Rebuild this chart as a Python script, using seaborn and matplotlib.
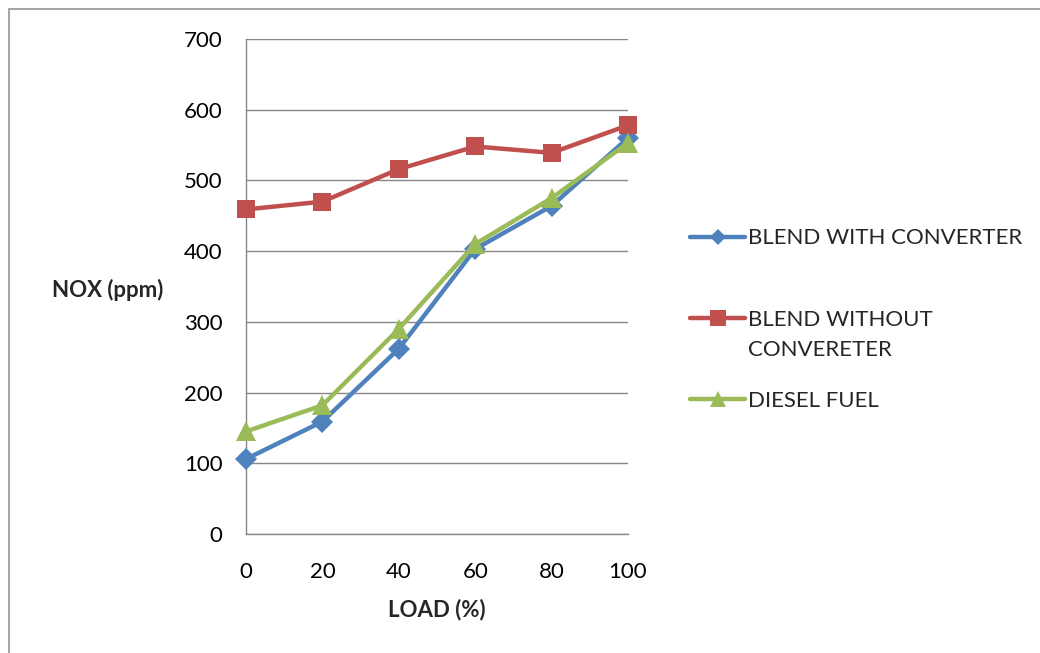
import matplotlib
matplotlib.use("Agg")
import matplotlib.pyplot as plt
import seaborn as sns
import pandas as pd
from matplotlib.patches import Rectangle

load = [0, 20, 40, 60, 80, 100]
blend_with = [106, 159, 262, 403, 464, 560]
blend_without = [459, 470, 516, 548, 539, 578]
diesel = [145, 182, 290, 410, 475, 553]
series_names = ["BLEND WITH CONVERTER", "BLEND WITHOUT\nCONVERETER", "DIESEL FUEL"]
y_ticks = [0, 100, 200, 300, 400, 500, 600, 700]
x_ticks = [0, 20, 40, 60, 80, 100]

colors = ["#4F81BD", "#C0504D", "#9BBB59"]
markers = ["D", "s", "^"]
msizes = [11, 13.5, 15]
leg_msizes = [8, 12, 12]

sns.set_theme(style="white")
plt.rcParams["font.family"] = ["Lato", "DejaVu Sans"]
FS = 16

W, H = 1040, 653
fig = plt.figure(figsize=(W / 100, H / 100), dpi=100)
ax = fig.add_axes([246 / W, 1 - 534 / H, (628 - 246) / W, (534 - 39) / H])

fig.patches.append(Rectangle((9 / W, -0.05), 1.1, 1 - 9 / H + 0.05, transform=fig.transFigure,
                             fill=False, edgecolor="#A6A6A6", linewidth=1.5, zorder=0))

df = pd.DataFrame({"load": load, "a": blend_with, "b": blend_without, "c": diesel})
handles = []
for i, col in enumerate(["a", "b", "c"]):
    sns.lineplot(data=df, x="load", y=col, ax=ax, color=colors[i], marker=markers[i],
                 markersize=msizes[i], markeredgewidth=0, linewidth=3.2, clip_on=False,
                 zorder=3 + i, legend=False)
    handles.append(ax.lines[-1])

gray = "#868686"
ax.set_xlim(0, 100)
ax.set_ylim(0, 700)
ax.set_xticks(x_ticks)
ax.set_yticks(y_ticks)
ax.grid(axis="y", color=gray, linewidth=1)
ax.grid(axis="x", visible=False)
for s in ["top", "right"]:
    ax.spines[s].set_visible(False)
for s in ["left", "bottom"]:
    ax.spines[s].set_color(gray)
    ax.spines[s].set_linewidth(1)
ax.tick_params(axis="both", direction="out", length=5, width=1, color=gray,
               labelsize=FS, labelcolor="black")
ax.tick_params(axis="y", pad=12)
ax.tick_params(axis="x", pad=15.5)
ax.set_xlabel("LOAD (%)", fontsize=FS, fontweight="bold", labelpad=12)
ax.set_ylabel("")
fig.text(108 / W, 1 - 290 / H, "NOX (ppm)", fontsize=FS, fontweight="bold",
         ha="center", va="center")

leg_labels = ["BLEND WITH CONVERTER", "BLEND WITHOUT", "DIESEL FUEL"]
leg = fig.legend(handles, leg_labels, loc="upper left",
                 bbox_to_anchor=(690 / W, 1 - 228.5 / H), bbox_transform=fig.transFigure,
                 frameon=False, fontsize=FS, handlelength=2.48, handletextpad=0.15,
                 labelspacing=2.75, borderpad=0, borderaxespad=0)
for h, ms in zip(leg.legend_handles, leg_msizes):
    h.set_markersize(ms)
fig.text(748 / W, 1 - 350 / H, series_names[1].split("\n")[1], fontsize=FS,
         ha="left", va="center")

fig.savefig("out.png", dpi=100)
